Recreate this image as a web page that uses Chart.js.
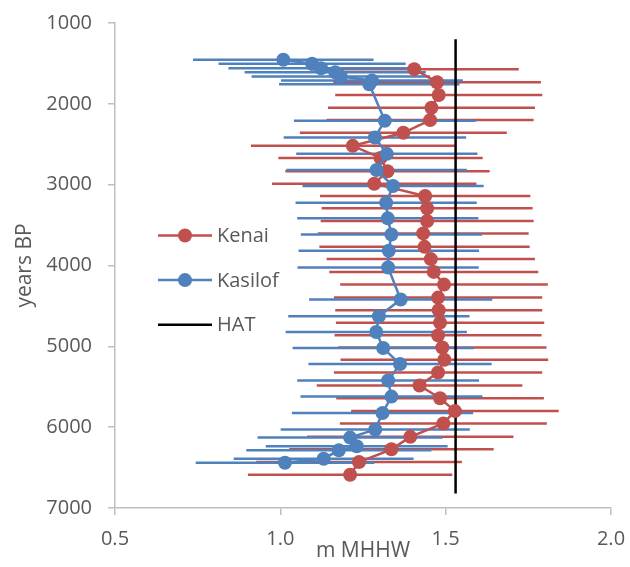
<!DOCTYPE html>
<html><head><meta charset="utf-8">
<script src="https://cdn.jsdelivr.net/npm/chart.js@4.4.0/dist/chart.umd.min.js"></script>
<style>html,body{margin:0;padding:0;background:#fff;}#wrap{width:630px;height:567px;position:relative;}</style>
</head><body><div id="wrap"><canvas id="c" width="630" height="567"></canvas></div>
<script>
// ---- data ----
const seriesNames = ['Kenai', 'Kasilof', 'HAT'];
const kenaiAge  = [1571,1733,1890,2048,2201,2358,2520,2669,2834,2988,3141,3293,3450,3603,3769,3921,4079,4236,4397,4554,4707,4864,5015,5166,5324,5485,5643,5801,5954,6120,6274,6432,6589];
const kenaiElev = [1.405,1.474,1.479,1.457,1.453,1.372,1.219,1.303,1.324,1.284,1.438,1.444,1.444,1.432,1.436,1.455,1.464,1.495,1.477,1.479,1.483,1.477,1.490,1.496,1.477,1.421,1.483,1.528,1.493,1.393,1.336,1.238,1.211];
const kenaiErr  = [0.316,0.314,0.313,0.313,0.313,0.313,0.308,0.309,0.309,0.309,0.318,0.319,0.322,0.319,0.318,0.315,0.316,0.314,0.315,0.313,0.315,0.313,0.315,0.314,0.315,0.311,0.314,0.314,0.313,0.312,0.309,0.311,0.309];
const kasilofAge  = [1455,1505,1559,1609,1663,1712,1758,2209,2416,2619,2818,3017,3223,3417,3616,3818,4025,4421,4628,4822,5021,5220,5423,5622,5826,6029,6129,6237,6286,6390,6440];
const kasilofElev = [1.009,1.096,1.123,1.166,1.183,1.277,1.269,1.316,1.286,1.322,1.291,1.341,1.320,1.325,1.336,1.328,1.326,1.364,1.298,1.290,1.311,1.362,1.326,1.336,1.309,1.287,1.211,1.231,1.177,1.131,1.014];
const kasilofErr  = [0.273,0.283,0.280,0.274,0.270,0.275,0.273,0.275,0.276,0.274,0.273,0.274,0.274,0.274,0.274,0.273,0.274,0.277,0.274,0.274,0.274,0.277,0.275,0.275,0.274,0.286,0.280,0.275,0.280,0.272,0.270];
const hatAge  = [1200, 6820];
const hatElev = [1.53, 1.53];
const xTicks = [0.5, 1.0, 1.5, 2.0];
const yTicks = [1000, 2000, 3000, 4000, 5000, 6000, 7000];
const xTitle = 'm MHHW';
const yTitle = 'years BP';

// ---- styles ----
const RED = '#C0504D', BLUE = '#4F81BD', BLACK = '#000000';
const TXT = '#595959', AXIS = '#BFBFBF';
const FONT = "'Open Sans', 'Liberation Sans', sans-serif";

function pts(xs, ys) { return xs.map((x, i) => ({ x: x, y: ys[i] })); }

const errorBarPlugin = {
  id: 'errorBars',
  beforeDatasetsDraw(chart) {
    const ctx = chart.ctx;
    const xs = chart.scales.x, ys = chart.scales.y;
    chart.data.datasets.forEach((ds) => {
      if (!ds.errors) return;
      ctx.save();
      ctx.strokeStyle = ds.borderColor;
      ctx.lineWidth = 2.5;
      ds.data.forEach((p, i) => {
        const e = ds.errors[i];
        const y = ys.getPixelForValue(p.y);
        ctx.beginPath();
        ctx.moveTo(xs.getPixelForValue(p.x - e), y);
        ctx.lineTo(xs.getPixelForValue(p.x + e), y);
        ctx.stroke();
      });
      ctx.restore();
    });
  }
};

const legendPlugin = {
  id: 'insideLegend',
  afterDraw(chart, args, opts) {
    const ctx = chart.ctx;
    const area = chart.chartArea;
    const x0 = area.left + opts.offsetX;
    chart.data.datasets.forEach((ds, i) => {
      const y = area.top + opts.offsetY + i * opts.spacing;
      ctx.save();
      ctx.strokeStyle = ds.borderColor;
      ctx.lineWidth = ds.borderWidth;
      ctx.beginPath();
      ctx.moveTo(x0, y);
      ctx.lineTo(x0 + opts.lineLen, y);
      ctx.stroke();
      if (ds.pointRadius > 0) {
        ctx.fillStyle = ds.backgroundColor;
        ctx.beginPath();
        ctx.arc(x0 + opts.lineLen / 2, y, ds.pointRadius, 0, Math.PI * 2);
        ctx.fill();
      }
      ctx.fillStyle = TXT;
      ctx.font = opts.fontSize + 'px ' + FONT;
      ctx.textBaseline = 'middle';
      ctx.textAlign = 'left';
      ctx.fillText(ds.label, x0 + opts.lineLen + opts.gap, y + 1);
      ctx.restore();
    });
  }
};

new Chart(document.getElementById('c'), {
  type: 'scatter',
  data: {
    datasets: [
      { label: seriesNames[0], data: pts(kenaiElev, kenaiAge), errors: kenaiErr, showLine: true,
        borderColor: RED, backgroundColor: RED, borderWidth: 2.5, pointRadius: 7, pointHoverRadius: 7,
        pointBorderWidth: 0, order: 2 },
      { label: seriesNames[1], data: pts(kasilofElev, kasilofAge), errors: kasilofErr, showLine: true,
        borderColor: BLUE, backgroundColor: BLUE, borderWidth: 2.5, pointRadius: 7, pointHoverRadius: 7,
        pointBorderWidth: 0, order: 1 },
      { label: seriesNames[2], data: pts(hatElev, hatAge), showLine: true,
        borderColor: BLACK, backgroundColor: BLACK, borderWidth: 2.5, pointRadius: 0, pointHoverRadius: 0,
        order: 3 }
    ]
  },
  options: {
    responsive: false,
    animation: false,
    devicePixelRatio: 1,
    layout: { padding: { top: 23, right: 19, left: 0, bottom: 0 } },
    plugins: {
      legend: { display: false },
      tooltip: { enabled: false },
      insideLegend: { offsetX: 43, offsetY: 212.5, spacing: 44.6, lineLen: 54, gap: 5, fontSize: 20 }
    },
    scales: {
      x: {
        type: 'linear', min: 0.5, max: 2.0,
        afterFit(s) { s.height = 59; s.paddingLeft = 0; s.paddingRight = 0; },
        afterBuildTicks(s) { s.ticks = xTicks.map(v => ({ value: v })); },
        ticks: { callback: v => Number(v).toFixed(1), color: TXT, font: { family: FONT, size: 20 }, padding: 12, maxRotation: 0, autoSkip: false },
        grid: { display: true, drawOnChartArea: false, drawTicks: true, tickLength: 7, color: AXIS, lineWidth: 1.5 },
        border: { display: true, color: AXIS, width: 1.5 },
        title: { display: true, text: xTitle, color: TXT, font: { family: FONT, size: 21 }, padding: { top: 0, bottom: 3 } }
      },
      y: {
        type: 'linear', reverse: true, min: 1000, max: 7000,
        afterFit(s) { s.width = 115; s.paddingTop = 0; s.paddingBottom = 0; },
        afterBuildTicks(s) { s.ticks = yTicks.map(v => ({ value: v })); },
        ticks: { callback: v => String(v), color: TXT, font: { family: FONT, size: 20 }, padding: 16, autoSkip: false },
        grid: { display: true, drawOnChartArea: false, drawTicks: true, tickLength: 7, color: AXIS, lineWidth: 1.5 },
        border: { display: true, color: AXIS, width: 1.5 },
        title: { display: true, text: yTitle, color: TXT, font: { family: FONT, size: 21 }, padding: { top: 12, bottom: 0 } }
      }
    }
  },
  plugins: [errorBarPlugin, legendPlugin]
});
</script>
</body></html>
